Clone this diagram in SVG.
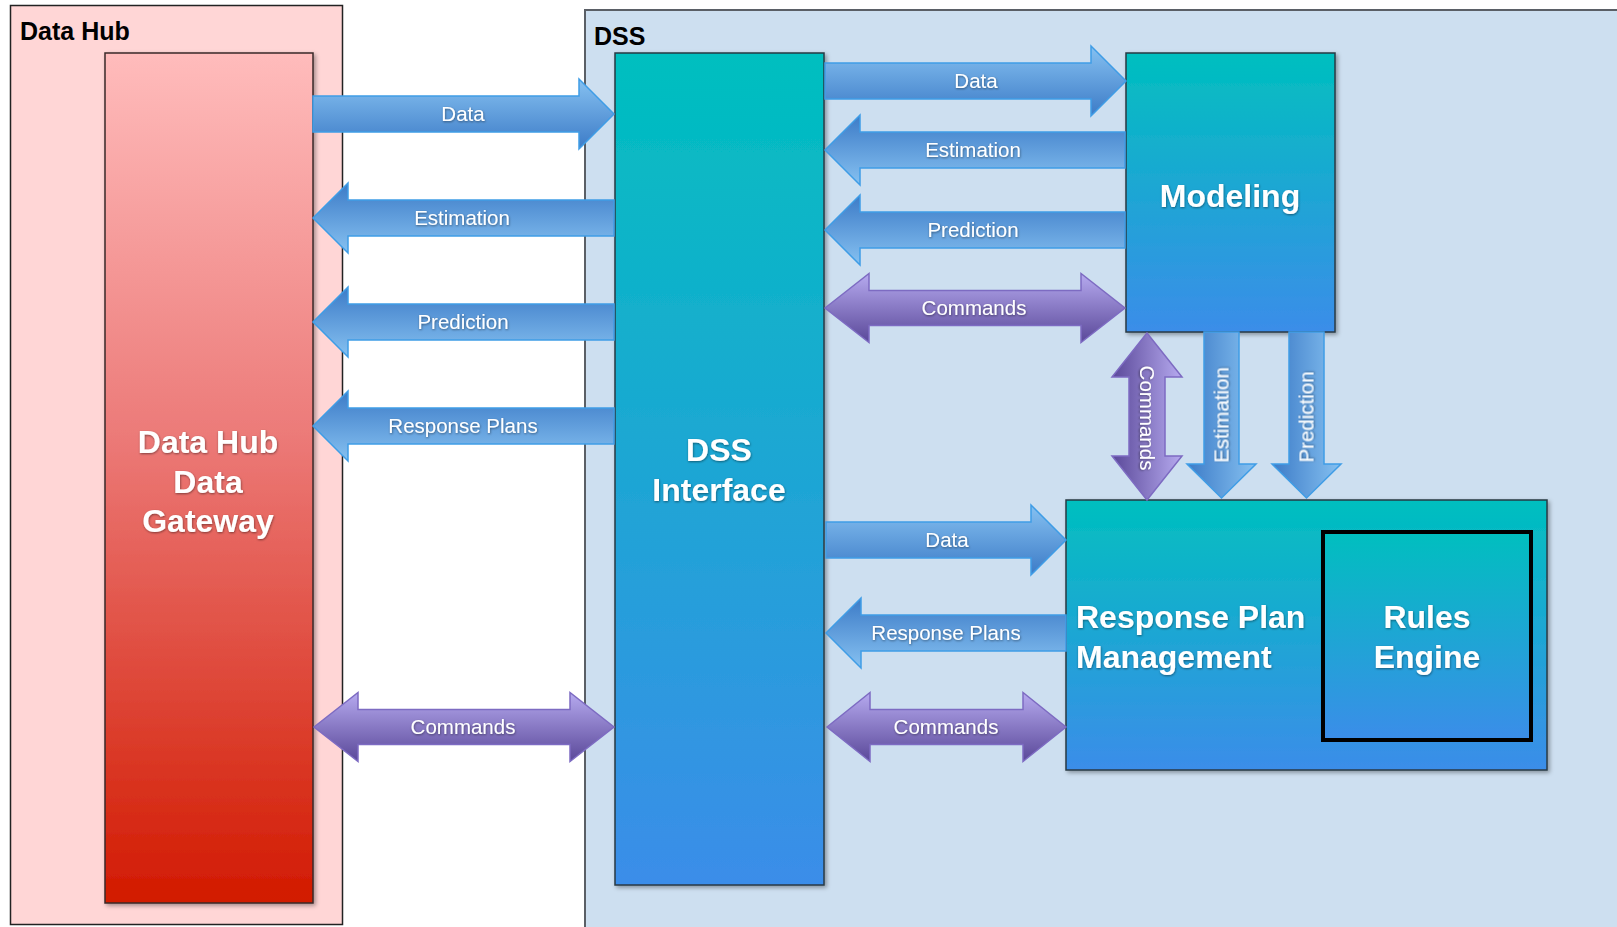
<svg xmlns="http://www.w3.org/2000/svg" width="1617" height="927" viewBox="0 0 1617 927">
<defs>
<linearGradient id="gRed" x1="0" y1="0" x2="0" y2="1">
<stop offset="0" stop-color="#ffbcbc"/>
<stop offset="0.45" stop-color="#ec7a78"/>
<stop offset="1" stop-color="#d21a00"/>
</linearGradient>
<linearGradient id="gTeal" x1="0" y1="0" x2="0" y2="1">
<stop offset="0" stop-color="#00bfbf"/>
<stop offset="1" stop-color="#3b8de9"/>
</linearGradient>
<linearGradient id="gBlue" x1="0" y1="0" x2="0" y2="1">
<stop offset="0" stop-color="#86c1f1"/>
<stop offset="1" stop-color="#3c7bc7"/>
</linearGradient>
<linearGradient id="gPurple" x1="0" y1="0" x2="0" y2="1">
<stop offset="0" stop-color="#b6aaef"/>
<stop offset="1" stop-color="#5a4899"/>
</linearGradient>
<filter id="shadow" x="-10%" y="-10%" width="120%" height="120%">
<feDropShadow dx="2" dy="2" stdDeviation="2" flood-color="#000" flood-opacity="0.35"/>
</filter>
<filter id="tshadow" x="-10%" y="-20%" width="120%" height="140%">
<feDropShadow dx="0.5" dy="1" stdDeviation="0.8" flood-color="#000" flood-opacity="0.45"/>
</filter>
<path id="arR301" d="M0,-18 L266,-18 L266,-35 L301,0 L266,35 L266,18 L0,18 Z"/>
<path id="arR300" d="M0,-18 L265,-18 L265,-35 L300,0 L265,35 L265,18 L0,18 Z"/>
<path id="arR240" d="M0,-18 L205,-18 L205,-35 L240,0 L205,35 L205,18 L0,18 Z"/>
<path id="arR166" d="M0,-17.5 L132,-17.5 L132,-34.5 L166,0 L132,34.5 L132,17.5 L0,17.5 Z"/>
<path id="arD300" d="M0,0 L44,-34.5 L44,-17.5 L256,-17.5 L256,-34.5 L300,0 L256,34.5 L256,17.5 L44,17.5 L44,34.5 Z"/>
<path id="arD239" d="M0,0 L43,-34.5 L43,-17.5 L196,-17.5 L196,-34.5 L239,0 L196,34.5 L196,17.5 L43,17.5 L43,34.5 Z"/>
<path id="arD167" d="M0,0 L44,-35 L44,-18 L123,-18 L123,-35 L167,0 L123,35 L123,18 L44,18 L44,35 Z"/>
</defs>
<style>
.head{font-family:"Liberation Sans",Arial,sans-serif;font-weight:bold;font-size:25px;fill:#000}
.big{font-family:"Liberation Sans",Arial,sans-serif;font-weight:bold;font-size:32px;fill:#fff;filter:url(#tshadow)}
.lbl{font-family:"Liberation Sans",Arial,sans-serif;font-size:20.5px;fill:#fff;text-anchor:middle;filter:url(#tshadow)}
.mid{text-anchor:middle}
.blue{fill:url(#gBlue);stroke:#3f9de6;stroke-width:1.5}
.purple{fill:url(#gPurple);stroke:#7d6bc2;stroke-width:1.5}
.node{fill:url(#gTeal);stroke:#2a3a44;stroke-width:1.5;filter:url(#shadow)}
</style>
<rect x="0" y="0" width="1617" height="927" fill="#fff"/>
<g id="datahub-container">
<rect x="10.5" y="5.5" width="332" height="919" fill="#ffd6d6" stroke="#222" stroke-width="1.5"/>
<text class="head" x="20" y="40">Data Hub</text>
</g>
<g id="dss-container">
<rect x="585" y="10" width="1040" height="925" fill="#cddff0" stroke="#5a5f66" stroke-width="2"/>
<text class="head" x="594" y="45">DSS</text>
</g>
<g id="gateway">
<rect x="105" y="53" width="208" height="850" fill="url(#gRed)" stroke="#3a2a2a" stroke-width="1.5" filter="url(#shadow)"/>
<text class="big mid" x="208" y="453">Data Hub</text>
<text class="big mid" x="208" y="493">Data</text>
<text class="big mid" x="208" y="532">Gateway</text>
</g>
<g id="dss-interface">
<rect class="node" x="615" y="53" width="209" height="832"/>
<text class="big mid" x="719" y="461">DSS</text>
<text class="big mid" x="719" y="501">Interface</text>
</g>
<g id="modeling">
<rect class="node" x="1126" y="53" width="209" height="279"/>
<text class="big mid" x="1230" y="207">Modeling</text>
</g>
<g id="response-plan-management">
<rect class="node" x="1066" y="500" width="481" height="270"/>
<text class="big" x="1076" y="628">Response Plan</text>
<text class="big" x="1076" y="668">Management</text>
</g>
<g id="rules-engine">
<rect x="1323" y="532" width="208" height="208" fill="url(#gTeal)" stroke="#000" stroke-width="4"/>
<text class="big mid" x="1427" y="628">Rules</text>
<text class="big mid" x="1427" y="668">Engine</text>
</g>
<g id="connectors">
<use href="#arR301" class="blue" transform="translate(313,114)"/>
<use href="#arR301" class="blue" transform="translate(614,218) rotate(180)"/>
<use href="#arR301" class="blue" transform="translate(614,322) rotate(180)"/>
<use href="#arR301" class="blue" transform="translate(614,426) rotate(180)"/>
<use href="#arD300" class="purple" transform="translate(314,727)"/>
<use href="#arR301" class="blue" transform="translate(825,81)"/>
<use href="#arR300" class="blue" transform="translate(1125,150) rotate(180)"/>
<use href="#arR300" class="blue" transform="translate(1125,230) rotate(180)"/>
<use href="#arD300" class="purple" transform="translate(825,308)"/>
<use href="#arD167" class="purple" transform="translate(1147,333) rotate(90)"/>
<use href="#arR166" class="blue" transform="translate(1221.5,332) rotate(90)"/>
<use href="#arR166" class="blue" transform="translate(1306.5,332) rotate(90)"/>
<use href="#arR240" class="blue" transform="translate(826,540)"/>
<use href="#arR240" class="blue" transform="translate(1066,633) rotate(180)"/>
<use href="#arD239" class="purple" transform="translate(827,727)"/>
<text class="lbl" x="463" y="121">Data</text>
<text class="lbl" x="462" y="225">Estimation</text>
<text class="lbl" x="463" y="329">Prediction</text>
<text class="lbl" x="463" y="433">Response Plans</text>
<text class="lbl" x="463" y="734">Commands</text>
<text class="lbl" x="976" y="88">Data</text>
<text class="lbl" x="973" y="157">Estimation</text>
<text class="lbl" x="973" y="237">Prediction</text>
<text class="lbl" x="974" y="315">Commands</text>
<text class="lbl" x="1147" y="425" transform="rotate(90 1147 418)">Commands</text>
<text class="lbl" x="1221.5" y="422" transform="rotate(-90 1221.5 415)">Estimation</text>
<text class="lbl" x="1306.5" y="424" transform="rotate(-90 1306.5 417)">Prediction</text>
<text class="lbl" x="947" y="547">Data</text>
<text class="lbl" x="946" y="640">Response Plans</text>
<text class="lbl" x="946" y="734">Commands</text>
</g>
</svg>
